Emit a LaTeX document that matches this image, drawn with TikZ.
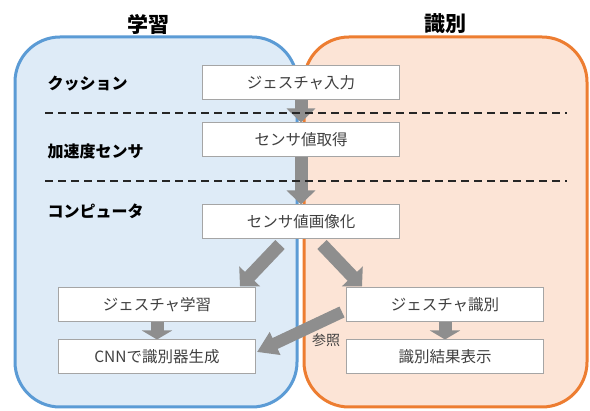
\documentclass[tikz,border=0pt]{standalone}
\usepackage{fontspec}
\setmainfont{Noto Sans CJK JP}
\usetikzlibrary{arrows.meta,calc}
\pgfdeclarelayer{bg}
\pgfdeclarelayer{mid}
\pgfsetlayers{bg,mid,main}
\definecolor{bluebd}{HTML}{5B9BD5}
\definecolor{bluefill}{HTML}{DEEBF7}
\definecolor{orbd}{HTML}{ED7D31}
\definecolor{orfill}{HTML}{FCE4D6}
\definecolor{boxgray}{HTML}{A5A5A5}
\definecolor{txtgray}{HTML}{404040}
\definecolor{arrgray}{HTML}{8E8E8E}
\begin{document}
\begin{tikzpicture}[x=1pt,y=-1pt,
  box/.style={draw=boxgray, line width=1pt, fill=white, minimum width=197pt, minimum height=34pt, inner sep=0pt, font=\fontsize{15.5}{15.5}\selectfont, text=txtgray},
  lab/.style={anchor=west, font=\bfseries\fontsize{16}{16}\selectfont, text=black},
  ttl/.style={font=\bfseries\fontsize{21}{21}\selectfont, text=black},
  bigarrow/.style={draw=arrgray, line width=13pt, -{Triangle[length=14pt,width=28pt]}},
  smallarrow/.style={draw=arrgray, line width=13pt, -{Triangle[length=9pt,width=30pt]}},
  sepline/.style={line width=1.8pt, dash pattern=on 8pt off 5pt, draw=black!85}]
\useasboundingbox (0,0) rectangle (590,411);
\begin{pgfonlayer}{bg}
\fill[white] (0,0) rectangle (590,411);
\draw[draw=bluebd, fill=bluefill, line width=3pt, rounded corners=45pt] (15,37) rectangle (297,407);
\draw[draw=orbd, fill=orfill, line width=3pt, rounded corners=45pt] (304,37) rectangle (587,407);
\end{pgfonlayer}
\node[ttl] (t1) at (148,24) {学習};
\node[ttl] (t2) at (445,24) {識別};
\node[lab] (l1) at (44,84) {クッション};
\node[lab] (l2) at (44,151) {加速度センサ};
\node[lab] (l3) at (44,211) {コンピュータ};
\node[box] (b1) at (301,83) {ジェスチャ入力};
\node[box] (b2) at (301,140) {センサ値取得};
\node[box] (b3) at (301,222) {センサ値画像化};
\node[box] (b4) at (157,305) {ジェスチャ学習};
\node[box] (b5) at (157,357) {CNNで識別器生成};
\node[box] (b6) at (445,305) {ジェスチャ識別};
\node[box] (b7) at (445,357) {識別結果表示};
\node[font=\fontsize{14}{14}\selectfont, text=txtgray] (ref) at (326,340) {参照};
\coordinate (d1a) at (45,113);
\coordinate (d1b) at (567,113);
\coordinate (d2a) at (45,181);
\coordinate (d2b) at (567,181);
\begin{pgfonlayer}{mid}
\draw[bigarrow] (b1.south) -- (b2.north);
\draw[bigarrow] (b2.south) -- (b3.north);
\draw[sepline] (d1a) -- (d1b);
\draw[sepline] (d2a) -- (d2b);
\draw[bigarrow] ($(b3.south)+(-21,5)$) -- ($(b4.north east)+(-16,-1)$);
\draw[bigarrow] ($(b3.south)+(21,5)$) -- ($(b6.north west)+(16,-1)$);
\draw[smallarrow] (b4.south) -- (b5.north);
\draw[smallarrow] (b6.south) -- (b7.north);
\draw[draw=arrgray, line width=12pt, -{Triangle[length=20pt,width=24pt]}] ($(b6.west)+(-4,7)$) -- ($(b5.east)+(1,-5)$);
\end{pgfonlayer}
\end{tikzpicture}
\end{document}
